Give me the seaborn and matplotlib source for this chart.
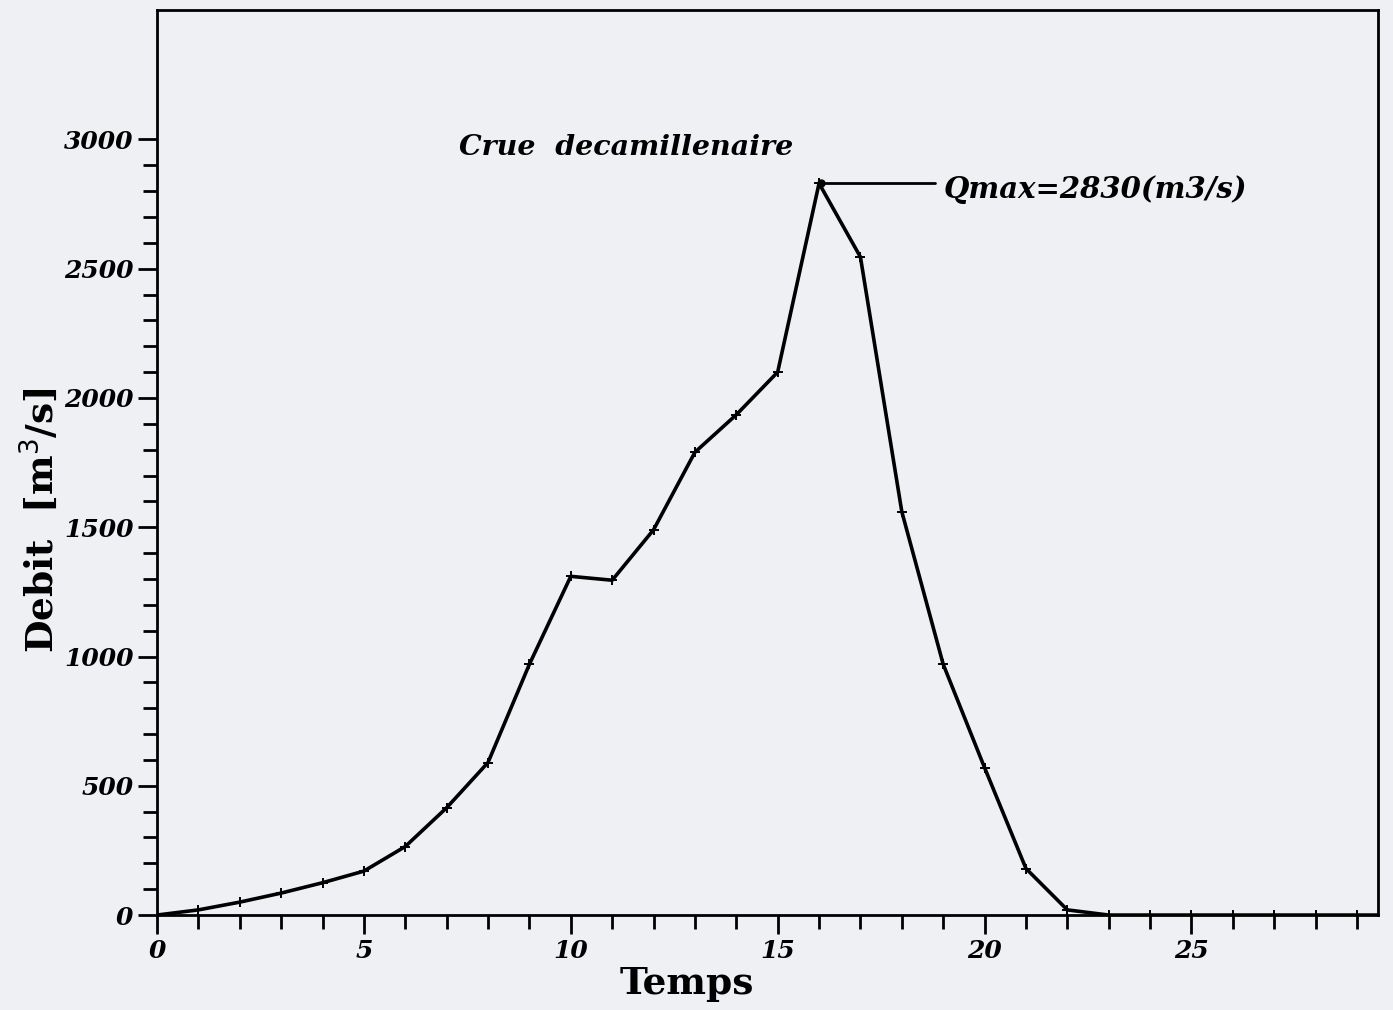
import matplotlib
matplotlib.use("Agg")
import matplotlib.pyplot as plt
import numpy as np
import pandas as pd
import seaborn as sns

# hydrogramme de crue (pas horaire)
temps = list(range(0, 31))
debit = [0, 20, 50, 85, 125, 170, 265, 415, 590, 970,
         1310, 1295, 1490, 1790, 1935, 2100, 2830, 2545, 1560, 970,
         570, 180, 20, 0, 0, 0, 0, 0, 0, 0, 0]
qmax = 2830
t_qmax = 16

df = pd.DataFrame({'Temps': temps, 'Debit': debit})

sns.set_style('ticks')
bg = '#eef0f4'
fig = plt.figure(figsize=(13.93, 10.10), dpi=100, facecolor=bg)
ax = fig.add_axes([0.1127, 0.094, 0.8763, 0.896])
ax.set_facecolor(bg)

sns.lineplot(x='Temps', y='Debit', data=df, color='black', linewidth=2.6,
             marker='+', markersize=7, markeredgewidth=1.4,
             markeredgecolor='black', ax=ax)

ax.set_xlim(0, 29.5)
ax.set_ylim(0, 3500)
ax.set_xticks([0, 5, 10, 15, 20, 25])
ax.set_xticks(np.arange(0, 30, 1), minor=True)
ax.set_yticks([0, 500, 1000, 1500, 2000, 2500, 3000])
ax.set_yticks(np.arange(0, 3100, 100), minor=True)
ax.tick_params(which='major', direction='out', length=14, width=2, pad=3,
               colors='black')
ax.tick_params(which='minor', direction='out', length=10, width=2, colors='black')
for lab in ax.get_xticklabels() + ax.get_yticklabels():
    lab.set_fontfamily('DejaVu Serif')
    lab.set_fontstyle('italic')
    lab.set_fontweight('bold')
    lab.set_fontsize(18)
for s in ax.spines.values():
    s.set_linewidth(2)
    s.set_color('black')

ax.set_xlabel('Temps', fontsize=27, fontweight='bold', family='DejaVu Serif',
              color='black', labelpad=0)
ax.xaxis.set_label_coords(0.434, -0.055)
ax.set_ylabel('Debit  [m$^3$/s]', fontsize=27, fontweight='bold', family='DejaVu Serif',
              color='black')
ax.yaxis.set_label_coords(-0.078, 0.436)

ax.text(7.3, 2970, 'Crue  decamillenaire', fontsize=20.5, fontweight='bold', style='italic',
        family='DejaVu Serif', va='center', ha='left', color='black')
ax.plot([t_qmax + 0.05], [qmax], 'o', color='black', markersize=5)
ax.plot([t_qmax + 0.15, 18.8], [qmax, qmax], color='black', linewidth=2)
ax.text(19.0, qmax - 25, 'Qmax=2830(m3/s)', fontsize=21, fontweight='bold', style='italic',
        family='DejaVu Serif', va='center', ha='left', color='black')

fig.savefig('out.png', dpi=100, facecolor=bg)
